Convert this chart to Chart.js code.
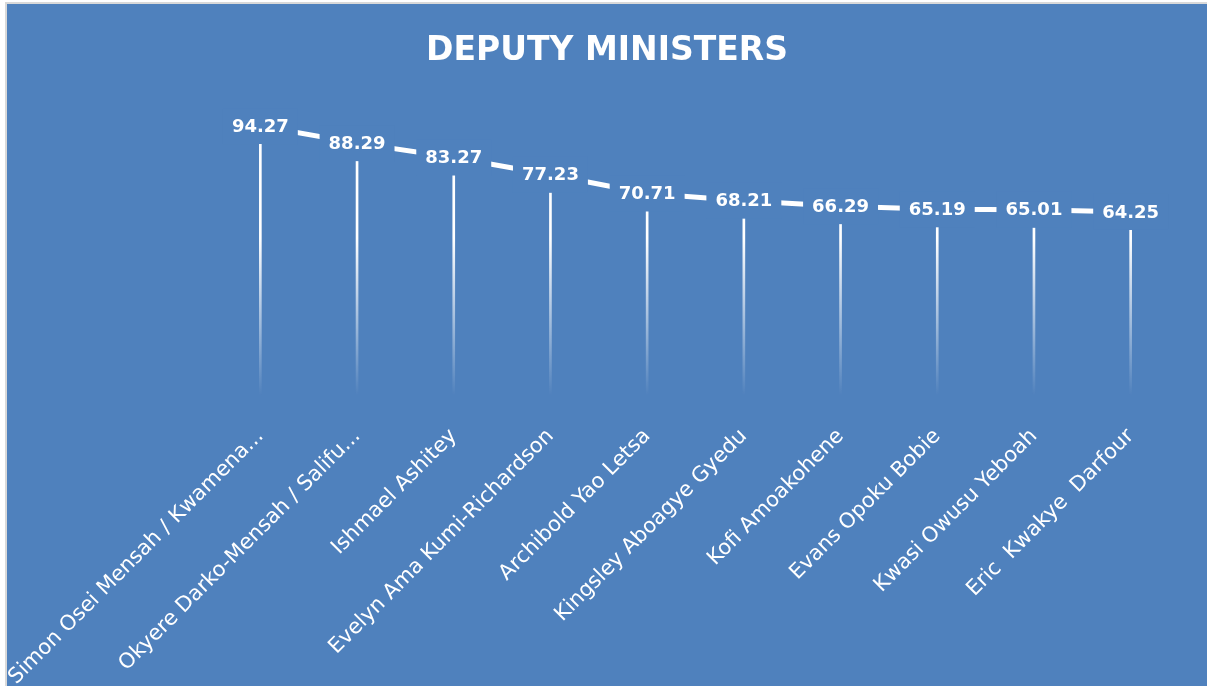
<!DOCTYPE html>
<html>
<head>
<meta charset="utf-8">
<script src="https://cdn.jsdelivr.net/npm/chart.js@4"></script>
<style>
  body { margin: 0; background: #fff; }
  #frame {
    position: absolute; left: 5px; top: 2px;
    border-top: 2px solid #d9d9d9; border-left: 2px solid #d9d9d9;
    background: #4f81bd; width: 1200px; height: 682px;
  }
  canvas { display: block; }
</style>
</head>
<body>
<div id="frame"><canvas id="ministers" width="1200" height="682"></canvas></div>
<script>
// deputy ministers scores
var names = [
    'Simon Osei Mensah / Kwamena...',
    'Okyere Darko-Mensah / Salifu...',
    'Ishmael Ashitey',
    'Evelyn Ama Kumi-Richardson',
    'Archibold Yao Letsa',
    'Kingsley Aboagye Gyedu',
    'Kofi Amoakohene',
    'Evans Opoku Bobie',
    'Kwasi Owusu Yeboah',
    'Eric  Kwakye  Darfour'
];
var scores = [94.27, 88.29, 83.27, 77.23, 70.71, 68.21, 66.29, 65.19, 65.01, 64.25];

var bgColor = '#4f81bd';

// white labels sitting on a box of the background colour, so the line breaks around them
var valueLabels = {
    id: 'valueLabels',
    afterDatasetsDraw: function(chart) {
        var ctx = chart.ctx;
        var meta = chart.getDatasetMeta(0);
        ctx.save();
        ctx.font = 'bold 18px "DejaVu Sans"';
        ctx.textAlign = 'center';
        ctx.textBaseline = 'middle';
        meta.data.forEach(function(pt, i) {
            var txt = scores[i].toFixed(2);
            var w = ctx.measureText(txt).width + 18;
            ctx.fillStyle = bgColor;
            ctx.fillRect(pt.x - w / 2, pt.y - 18, w, 36);
            ctx.fillStyle = '#ffffff';
            ctx.fillText(txt, pt.x, pt.y + 1);
        });
        ctx.restore();
    }
};

function dropGradient(c) {
    var area = c.chart.chartArea;
    if (!area) return '#ffffff';
    var g = c.chart.ctx.createLinearGradient(0, area.top, 0, area.bottom);
    g.addColorStop(0, 'rgba(255,255,255,1)');
    g.addColorStop(0.45, 'rgba(255,255,255,1)');
    g.addColorStop(1, 'rgba(255,255,255,0)');
    return g;
}

var ctx = document.getElementById('ministers').getContext('2d');
var chart = new Chart(ctx, {
    type: 'bar',
    data: {
        labels: names,
        datasets: [{
            type: 'line',
            label: 'Score',
            data: scores,
            borderColor: '#ffffff',
            borderWidth: 5,
            pointRadius: 0,
            tension: 0,
            order: 0
        }, {
            type: 'bar',
            label: 'Drop',
            data: scores,
            backgroundColor: dropGradient,
            borderWidth: 0,
            barThickness: 2,
            order: 1
        }]
    },
    options: {
        responsive: false,
        animation: false,
        devicePixelRatio: 1,
        events: [],
        layout: { padding: 0 },
        plugins: {
            legend: { display: false },
            tooltip: { enabled: false },
            title: {
                display: true,
                text: 'DEPUTY MINISTERS',
                color: '#ffffff',
                font: { family: 'DejaVu Sans', size: 33, weight: 'bold', lineHeight: 1.2 },
                padding: { top: 28, bottom: 38 }
            }
        },
        scales: {
            x: {
                grid: { display: false },
                border: { display: false },
                ticks: {
                    color: '#ffffff',
                    font: { family: 'DejaVu Sans', size: 21 },
                    minRotation: 45,
                    maxRotation: 45,
                    autoSkip: false,
                    padding: 20
                },
                afterFit: function(scale) {
                    // fixed plot box: keeps the title centred on the whole canvas
                    scale.height = 290;
                    scale.paddingLeft = 205;
                    scale.paddingRight = 28;
                }
            },
            y: {
                display: false,
                min: 0,
                max: 100
            }
        }
    },
    plugins: [valueLabels]
});
</script>
</body>
</html>
